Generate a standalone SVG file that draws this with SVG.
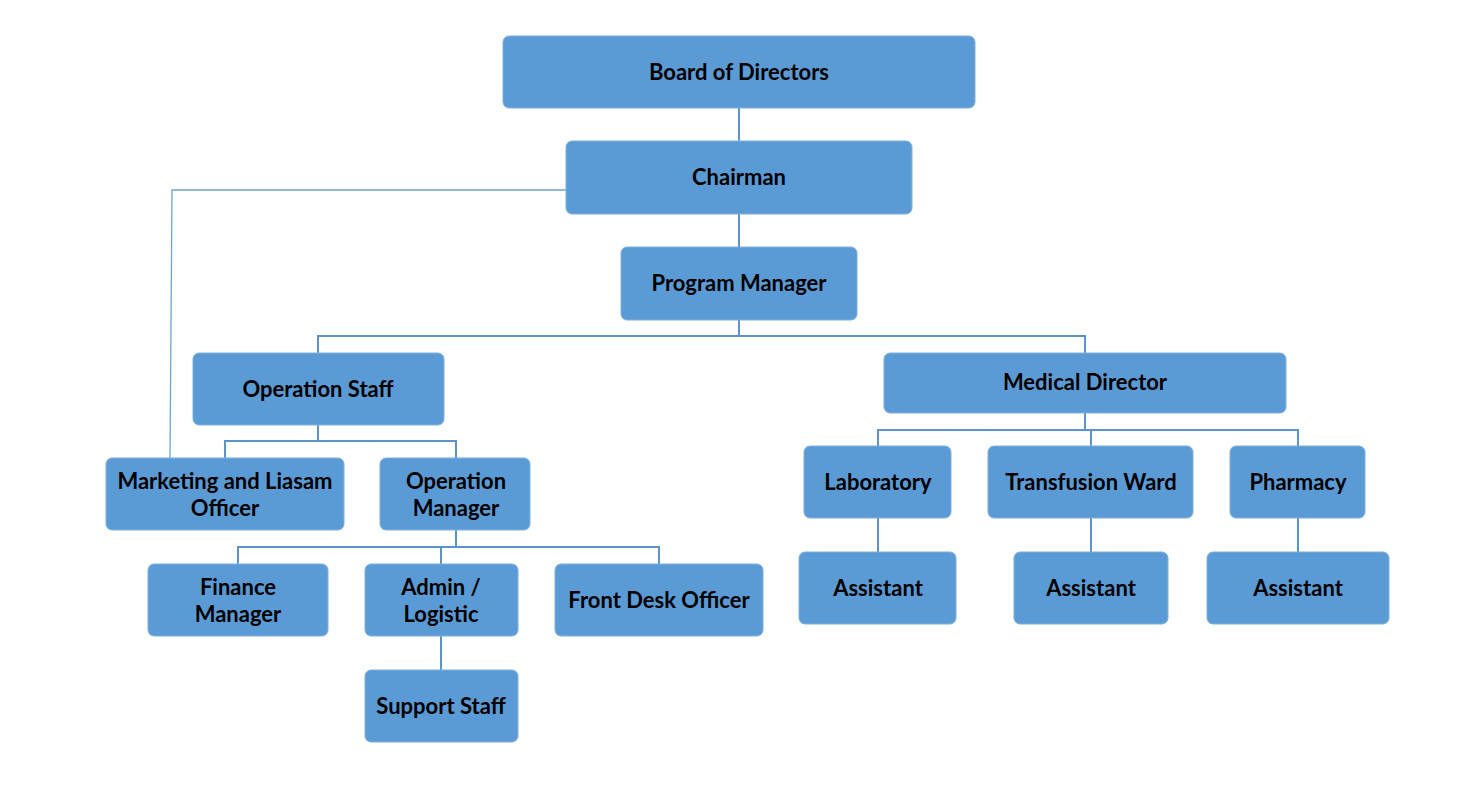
<svg xmlns="http://www.w3.org/2000/svg" width="1459" height="812" viewBox="0 0 1459 812">
<style>
.n rect{fill:#5B9BD5;stroke:#7FB0DE;stroke-width:1}
.n text{font-family:Lato,"Open Sans","Liberation Sans",sans-serif;font-weight:bold;font-size:22px;fill:#000;text-anchor:middle}
#connectors path{fill:none;stroke:#5B93CC;stroke-width:2}
#connectors path.thin{stroke:#6FA3D6;stroke-width:1.3}
</style>
<rect width="1459" height="812" fill="#fff"/>
<g id="connectors">
<path d="M739 108V141"/>
<path d="M739 214V247"/>
<path d="M739 320V336M318 353V336H1085V353"/>
<path class="thin" d="M566 190H172L170 458"/>
<path d="M318 425V441M225 458V441H456V458"/>
<path d="M456 530V547M238 564V547H659V564M441 547V564"/>
<path d="M441 636V670"/>
<path d="M1085 413V430M878 446V430H1298V446M1091 430V446"/>
<path d="M878 518V552"/>
<path d="M1091 518V552"/>
<path d="M1298 518V552"/>
</g>
<g id="board" class="n"><rect x="503" y="36" width="472" height="72" rx="6"/><text x="739" y="80">Board of Directors</text></g>
<g id="chairman" class="n"><rect x="566" y="141" width="346" height="73" rx="6"/><text x="739" y="185">Chairman</text></g>
<g id="program-manager" class="n"><rect x="621" y="247" width="236" height="73" rx="6"/><text x="739" y="291">Program Manager</text></g>
<g id="operation-staff" class="n"><rect x="193" y="353" width="251" height="72" rx="6"/><text x="318" y="397">Operation Staff</text></g>
<g id="medical-director" class="n"><rect x="884" y="353" width="402" height="60" rx="6"/><text x="1085" y="390">Medical Director</text></g>
<g id="marketing" class="n"><rect x="106" y="458" width="238" height="72" rx="6"/><text x="225" y="489">Marketing and Liasam</text><text x="225" y="516">Officer</text></g>
<g id="operation-manager" class="n"><rect x="380" y="458" width="150" height="72" rx="6"/><text x="456" y="489">Operation</text><text x="456" y="516">Manager</text></g>
<g id="finance-manager" class="n"><rect x="148" y="564" width="180" height="72" rx="6"/><text x="238" y="595">Finance</text><text x="238" y="622">Manager</text></g>
<g id="admin-logistic" class="n"><rect x="365" y="564" width="153" height="72" rx="6"/><text x="441" y="595">Admin /</text><text x="441" y="622">Logistic</text></g>
<g id="front-desk" class="n"><rect x="555" y="564" width="208" height="72" rx="6"/><text x="659" y="608">Front Desk Officer</text></g>
<g id="support-staff" class="n"><rect x="365" y="670" width="153" height="72" rx="6"/><text x="441" y="714">Support Staff</text></g>
<g id="laboratory" class="n"><rect x="804" y="446" width="147" height="72" rx="6"/><text x="878" y="490">Laboratory</text></g>
<g id="transfusion-ward" class="n"><rect x="988" y="446" width="205" height="72" rx="6"/><text x="1091" y="490">Transfusion Ward</text></g>
<g id="pharmacy" class="n"><rect x="1230" y="446" width="135" height="72" rx="6"/><text x="1298" y="490">Pharmacy</text></g>
<g id="assistant-lab" class="n"><rect x="799" y="552" width="157" height="72" rx="6"/><text x="878" y="596">Assistant</text></g>
<g id="assistant-transfusion" class="n"><rect x="1014" y="552" width="154" height="72" rx="6"/><text x="1091" y="596">Assistant</text></g>
<g id="assistant-pharmacy" class="n"><rect x="1207" y="552" width="182" height="72" rx="6"/><text x="1298" y="596">Assistant</text></g>
</svg>
